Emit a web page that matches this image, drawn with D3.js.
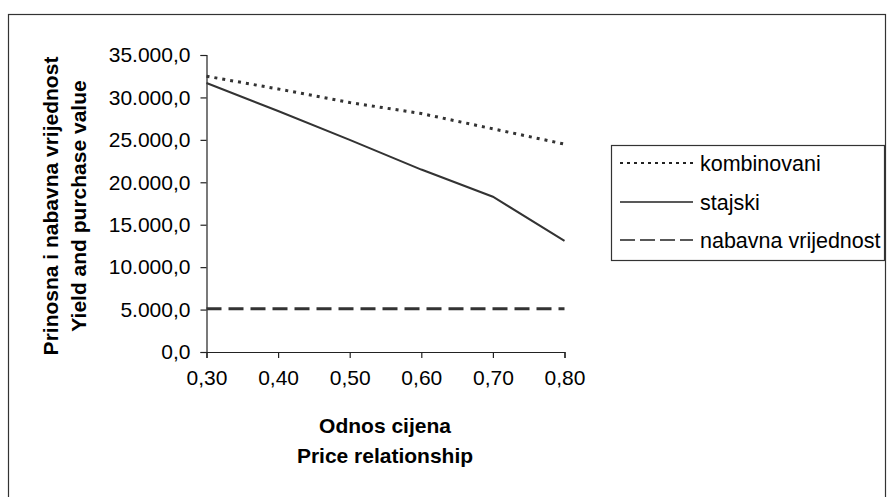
<!DOCTYPE html>
<html>
<head>
<meta charset="utf-8">
<script src="https://cdn.jsdelivr.net/npm/d3@7"></script>
<style>
  body { margin: 0; background: #fff; }
  text { font-family: "Liberation Sans", Arial, sans-serif; fill: #000; }
</style>
</head>
<body>
<script>
// Data
const ratios = [0.30, 0.40, 0.50, 0.60, 0.70, 0.80];
const kombinovani = [32500, 31000, 29400, 28100, 26300, 24500];
const stajski = [31700, 28400, 25000, 21500, 18300, 13100];
const nabavna = [5100, 5100, 5100, 5100, 5100, 5100];
const yTicks = [0, 5000, 10000, 15000, 20000, 25000, 30000, 35000];

const series = [
    { name: "kombinovani", values: kombinovani, dash: "3,5", width: 3, legendDash: "3,4", legendWidth: 2 },
    { name: "stajski", values: stajski, dash: null, width: 2, legendDash: null, legendWidth: 1.5 },
    { name: "nabavna vrijednost", values: nabavna, dash: "15,7", width: 3, legendDash: "15,5", legendWidth: 1.5 }
];

const width = 887, height = 497;
const svg = d3.select("body").append("svg")
    .attr("width", width)
    .attr("height", height);

// outer frame
svg.append("rect")
    .attr("x", 8.5).attr("y", 14.5)
    .attr("width", 877).attr("height", 500)
    .attr("fill", "none").attr("stroke", "#333").attr("stroke-width", 1.2);

const x = d3.scaleLinear().domain([0.3, 0.8]).range([206.5, 564.5]);
const y = d3.scaleLinear().domain([0, 35000]).range([352, 55]);

const fmtY = v => d3.format(",.1f")(v).replace(/,/g, "#").replace(".", ",").replace(/#/g, ".");
const fmtX = v => d3.format(".2f")(v).replace(".", ",");

// axes
const yAxis = svg.append("g")
    .attr("transform", `translate(${x(0.3)},0)`)
    .call(d3.axisLeft(y).tickValues(yTicks).tickSize(6).tickPadding(10).tickFormat(fmtY));
const xAxis = svg.append("g")
    .attr("transform", `translate(0,${y(0)})`)
    .call(d3.axisBottom(x).tickValues(ratios).tickSize(6).tickPadding(12).tickFormat(fmtX));

[xAxis, yAxis].forEach(a => {
    a.select(".domain").attr("stroke", "#222").attr("stroke-width", 1.2);
    a.selectAll(".tick line").attr("stroke", "#222").attr("stroke-width", 1.2);
    a.selectAll(".tick text")
        .style("font-family", "'Liberation Sans', Arial, sans-serif")
        .style("font-size", "21px")
        .attr("fill", "#000");
});

// lines
const line = d3.line()
    .x((d, i) => x(ratios[i]))
    .y(d => y(d));

series.forEach(s => {
    svg.append("path")
        .datum(s.values)
        .attr("d", line)
        .attr("fill", "none")
        .attr("stroke", "#333")
        .attr("stroke-width", s.width)
        .attr("stroke-dasharray", s.dash);
});

// axis titles
const yTitle = svg.append("g")
    .attr("transform", "translate(0,206) rotate(-90)");
yTitle.append("text")
    .attr("x", 0).attr("y", 58)
    .attr("text-anchor", "middle")
    .style("font-size", "21px").style("font-weight", "bold")
    .text("Prinosna i nabavna vrijednost");
yTitle.append("text")
    .attr("x", 0).attr("y", 86)
    .attr("text-anchor", "middle")
    .style("font-size", "21px").style("font-weight", "bold")
    .text("Yield and purchase value");

svg.append("text")
    .attr("x", 385).attr("y", 433)
    .attr("text-anchor", "middle")
    .style("font-size", "21px").style("font-weight", "bold")
    .text("Odnos cijena");
svg.append("text")
    .attr("x", 385).attr("y", 463)
    .attr("text-anchor", "middle")
    .style("font-size", "21px").style("font-weight", "bold")
    .text("Price relationship");

// legend
const legend = svg.append("g");
legend.append("rect")
    .attr("x", 611.5).attr("y", 145.5)
    .attr("width", 273).attr("height", 115)
    .attr("fill", "#fff").attr("stroke", "#333").attr("stroke-width", 1.2);

const rowY = [163, 202, 240];
series.forEach((s, i) => {
    const g = legend.append("g").attr("transform", `translate(0,${rowY[i]})`);
    g.append("line")
        .attr("x1", 620).attr("x2", 693)
        .attr("y1", 0).attr("y2", 0)
        .attr("stroke", "#222")
        .attr("stroke-width", s.legendWidth)
        .attr("stroke-dasharray", s.legendDash);
    g.append("text")
        .attr("x", 700).attr("y", 7.5)
        .style("font-size", "21.5px")
        .text(s.name);
});
</script>
</body>
</html>
